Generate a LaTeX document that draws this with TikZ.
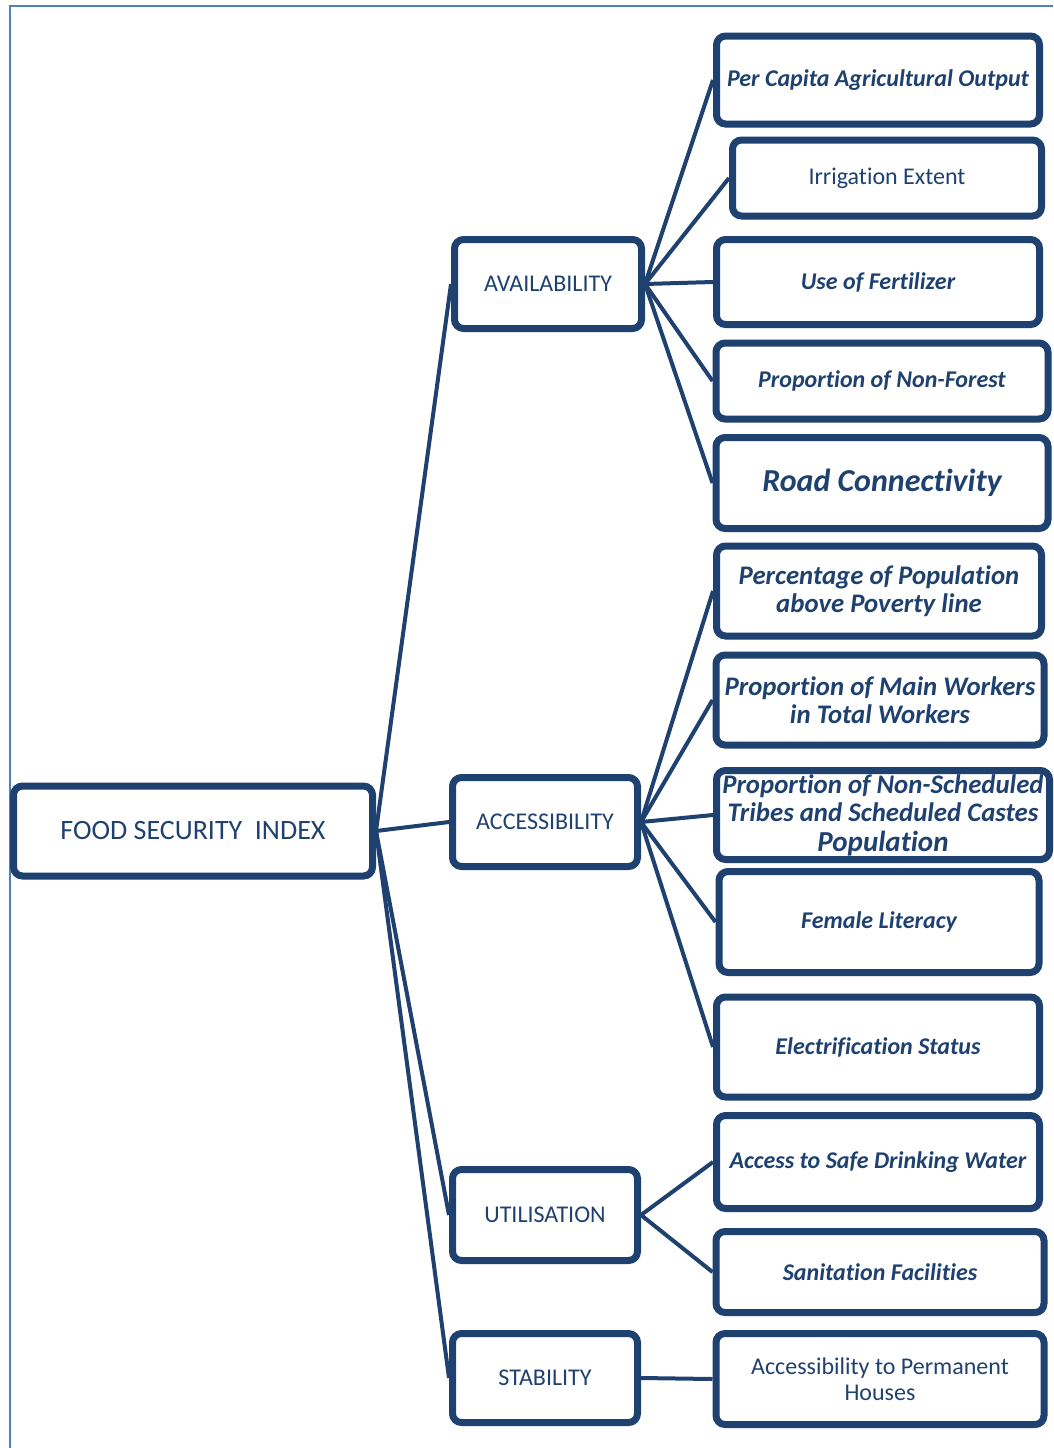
\documentclass[tikz,border=0pt]{standalone}
\usepackage{fontspec}
\setmainfont{Carlito}[Ligatures=NoCommon]
\usetikzlibrary{shadows}
\definecolor{navy}{RGB}{31,65,112}
\definecolor{frameblue}{RGB}{79,129,189}
\tikzset{box/.style={draw=navy, line width=7pt, rounded corners=9pt, fill=white,
        text=navy, align=center, inner sep=2pt,
        drop shadow={opacity=0.25, shadow xshift=2pt, shadow yshift=-3pt, fill=black}},
    link/.style={draw=navy, line width=4pt},
    plain/.style={font=\fontsize{24}{28}\selectfont},
    emph/.style={font=\fontsize{24}{28}\selectfont\bfseries\itshape}}

\begin{document}
\begin{tikzpicture}[x=1pt, y=-1pt]
    \useasboundingbox (0,0) rectangle (1053,1448);
    % outer frame
    \draw[frameblue, line width=2pt] (10,1448) -- (10,6) -- (1053,6);
    %
    \node[box, minimum width=359, minimum height=90, font=\fontsize{28}{32}\selectfont] (fsi) at (193,831) {FOOD SECURITY\ \ INDEX};
    \node[box, plain, minimum width=187, minimum height=89] (avail) at (548,284) {AVAILABILITY};
    \node[box, plain, minimum width=185, minimum height=89] (access) at (545,822) {ACCESSIBILITY};
    \node[box, plain, minimum width=185, minimum height=91] (util) at (545,1215) {UTILISATION};
    \node[box, plain, minimum width=185, minimum height=89] (stab) at (545,1378) {STABILITY};
    %
    \node[box, emph, minimum width=323, minimum height=88] (agri) at (878,80) {Per Capita Agricultural Output};
    \node[box, plain, minimum width=309, minimum height=76] (irrig) at (887,178) {Irrigation Extent};
    \node[box, emph, minimum width=323, minimum height=85] (fert) at (878,282) {Use of Fertilizer};
    \node[box, emph, minimum width=332, minimum height=76] (forest) at (882,381) {Proportion of Non-Forest};
    \node[box, minimum width=332, minimum height=91, font=\fontsize{32}{36}\selectfont\bfseries\itshape] (road) at (882,483) {Road Connectivity};
    \node[box, minimum width=325, minimum height=90, font=\fontsize{26.8}{28}\selectfont\bfseries\itshape] (poverty) at (879,591) {Percentage of Population\\above Poverty line};
    \node[box, minimum width=328, minimum height=90, font=\fontsize{26.8}{28}\selectfont\bfseries\itshape] (workers) at (880,700) {Proportion of Main Workers\\in Total Workers};
    \node[box, minimum width=333, minimum height=89, inner sep=0pt, font=\fontsize{26.8}{28}\selectfont\bfseries\itshape] (tribes) at (883,815) {Proportion of Non-Scheduled\\Tribes and Scheduled Castes\\[2pt]{\fontsize{29}{30}\selectfont Population}};
    \node[box, emph, minimum width=320, minimum height=101] (literacy) at (879,922) {Female Literacy};
    \node[box, emph, minimum width=323, minimum height=100] (electric) at (878,1047) {Electrification Status};
    \node[box, emph, minimum width=323, minimum height=93] (water) at (878,1162) {Access to Safe Drinking Water};
    \node[box, emph, minimum width=328, minimum height=81] (sanit) at (880,1272) {Sanitation Facilities};
    \node[box, minimum width=328, minimum height=91, font=\fontsize{24}{26}\selectfont] (houses) at (880,1379) {Accessibility to Permanent\\Houses};
    %
    \foreach \c in {avail,access,util,stab}
        \draw[link] (fsi.east) -- (\c.west);
    \foreach \c in {agri,irrig,fert,forest,road}
        \draw[link] (avail.east) -- (\c.west);
    \foreach \c in {poverty,workers,tribes,literacy,electric}
        \draw[link] (access.east) -- (\c.west);
    \foreach \c in {water,sanit}
        \draw[link] (util.east) -- (\c.west);
    \draw[link] (stab.east) -- (houses.west);
\end{tikzpicture}
\end{document}
